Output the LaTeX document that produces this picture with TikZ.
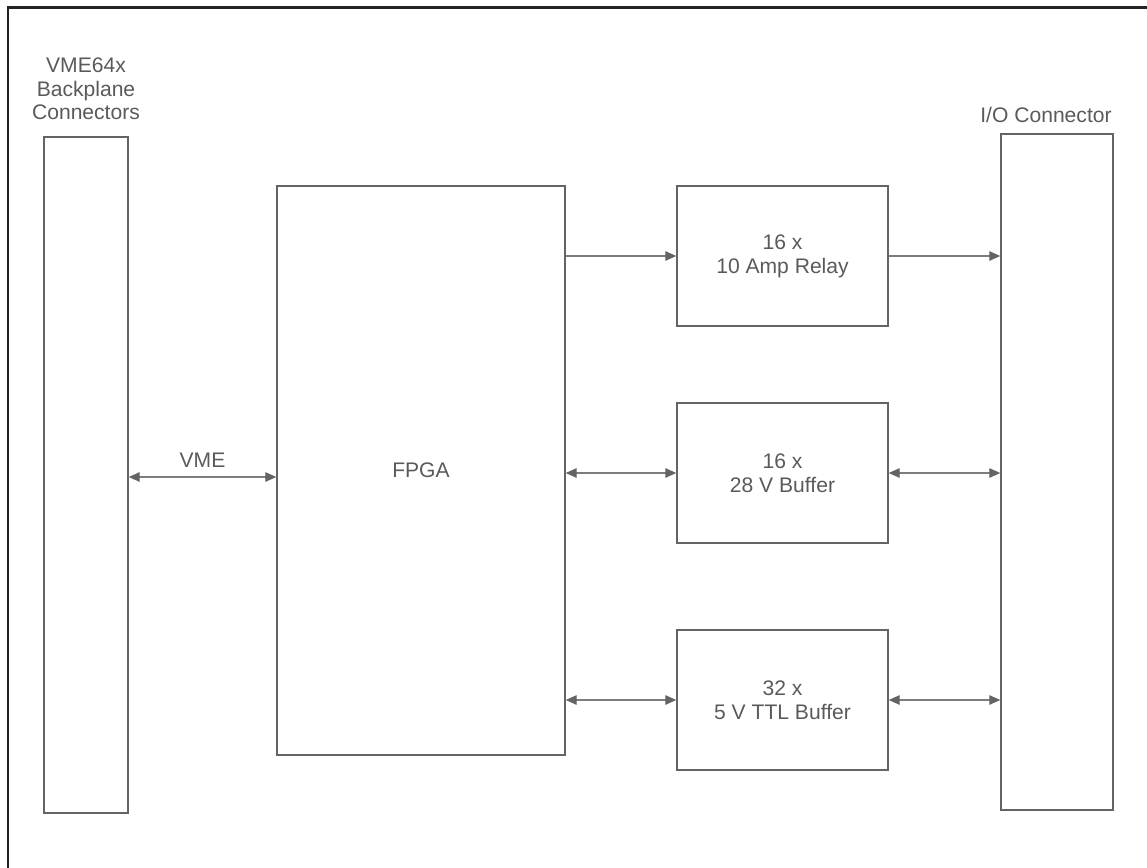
\documentclass[tikz,border=0pt]{standalone}
\usepackage{fontspec}
\setmainfont{Liberation Sans}
\usetikzlibrary{arrows.meta, positioning}
\definecolor{boxgray}{RGB}{100,100,100}
\definecolor{linkgray}{RGB}{125,125,125}
\definecolor{textgray}{RGB}{90,90,90}
\definecolor{framegray}{RGB}{35,35,35}

\begin{document}
\begin{tikzpicture}[x=0.02cm, y=-0.02cm,
every node/.style={align=center, text=textgray, font=\fontsize{12}{13.5}\selectfont},
block/.style={rectangle, draw=boxgray, line width=0.85pt, minimum width=4.22cm, minimum height=2.8cm},
connbar/.style={rectangle, draw=boxgray, line width=0.85pt, minimum height=13.52cm},
link/.style={draw=linkgray, line width=0.6pt},
>={Triangle[length=6.2pt, width=5.4pt, color=boxgray]}]

  \useasboundingbox (0,0) rectangle (1147,867);

  % Frame
  \draw[framegray, line width=1.4pt] (8,880) -- (8,7.5) -- (1160,7.5);

  % Connectors
  \node[connbar, minimum width=1.68cm] (vme) at (86,475) {};
  \node[connbar, minimum width=2.24cm] (io) at (1057,472) {};
  \node[above=7pt of vme, inner sep=2pt] (vmelabel) {VME64x\\Backplane\\Connectors};
  \node[above=4pt of io, xshift=-0.22cm, inner sep=2pt] (iolabel) {I/O Connector};

  % Logic
  \node[block, minimum width=5.76cm, minimum height=11.38cm] (fpga) at (421,470.5) {FPGA};

  % Outputs
  \node[block] (relay) at (782.5,256) {16 x\\10 Amp Relay};
  \node[block] (buf28) at (782.5,473) {16 x\\28 V Buffer};
  \node[block] (ttl) at (782.5,700) {32 x\\5 V TTL Buffer};

  \coordinate (vmebus) at (200,477);
  \draw[link, <->] (vme.east |- vmebus) -- node[above=2pt] {VME} (fpga.west |- vmebus);
  \draw[link, ->] (fpga.east |- relay) -- (relay);
  \draw[link, <->] (fpga.east |- buf28) -- (buf28);
  \draw[link, <->] (fpga.east |- ttl) -- (ttl);
  \draw[link, ->] (relay) -- (relay -| io.west);
  \draw[link, <->] (buf28) -- (buf28 -| io.west);
  \draw[link, <->] (ttl) -- (ttl -| io.west);

\end{tikzpicture}
\end{document}
